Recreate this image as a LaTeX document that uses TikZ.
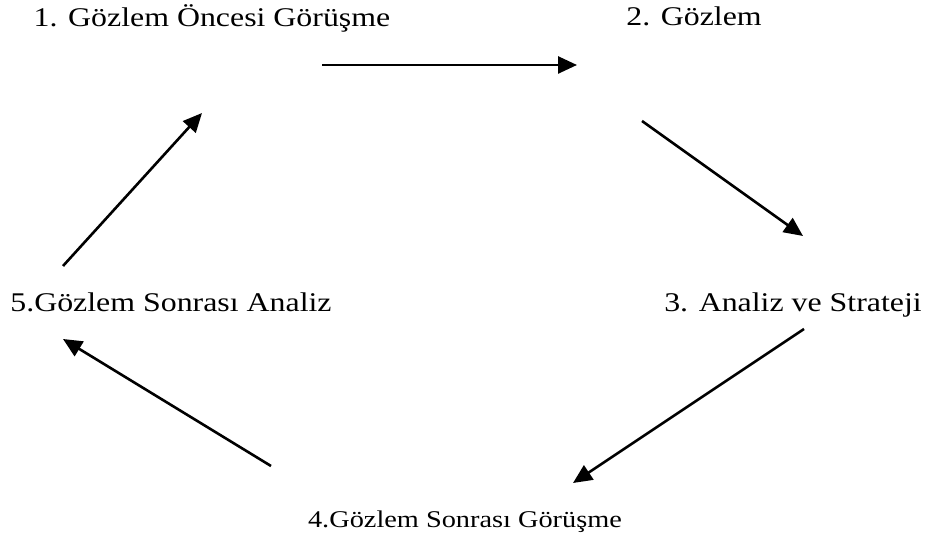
\documentclass[tikz,border=0pt]{standalone}
\usepackage{fontspec}
\setmainfont[FakeStretch=1.18]{Liberation Serif}
\usetikzlibrary{arrows.meta}
\begin{document}
\begin{tikzpicture}[x=1pt,y=1pt,
    adim/.style={anchor=base,font=\fontsize{27}{30}\selectfont},
    akis/.style={-{Triangle[length=19pt,width=17pt]},line width=2.6pt}]
      \useasboundingbox (0,0) rectangle (926,537);
      % stages of the cycle
      \node[adim] (oncesi) at (212,510) {1. Gözlem Öncesi Görüşme};
      \node[adim] (gozlem) at (694,511) {2. Gözlem};
      \node[adim] (strateji) at (793,225) {3. Analiz ve Strateji};
      \node[adim,font=\fontsize{24}{28}\selectfont] (sonragor) at (465,9) {4.Gözlem Sonrası Görüşme};
      \node[adim] (analiz) at (171,225) {5.Gözlem Sonrası Analiz};
      % arrow ends
      \coordinate (a1) at (322,472); \coordinate (b1) at (577,472);
      \coordinate (a2) at (642,416); \coordinate (b2) at (803,301);
      \coordinate (a3) at (804,208); \coordinate (b3) at (573,54);
      \coordinate (a4) at (271,71);  \coordinate (b4) at (63,198);
      \coordinate (a5) at (63,271);  \coordinate (b5) at (202,424);
      \draw[akis] (a1) -- (b1);
      \draw[akis] (a2) -- (b2);
      \draw[akis] (a3) -- (b3);
      \draw[akis] (a4) -- (b4);
      \draw[akis] (a5) -- (b5);
\end{tikzpicture}
\end{document}
